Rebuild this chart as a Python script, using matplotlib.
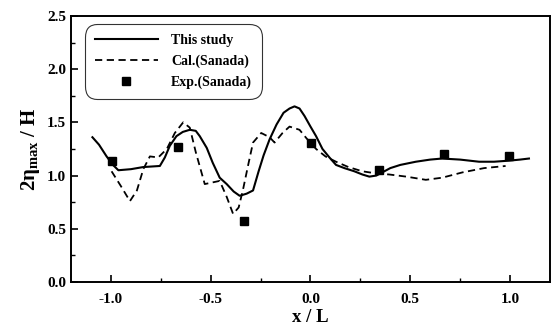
import matplotlib.pyplot as plt
from matplotlib.ticker import MultipleLocator

# This study (solid line)
study_x = [-1.093, -1.06, -1.022, -0.99, -0.963, -0.90, -0.838, -0.755, -0.73, -0.705,
           -0.672, -0.64, -0.605, -0.575, -0.555, -0.52, -0.49, -0.455, -0.42, -0.385,
           -0.355, -0.32, -0.288, -0.26, -0.235, -0.205, -0.17, -0.135, -0.105, -0.08,
           -0.055, -0.03, 0.0, 0.028, 0.06, 0.095, 0.128, 0.17, 0.22, 0.26, 0.295,
           0.33, 0.36, 0.40, 0.45, 0.528, 0.60, 0.66, 0.75, 0.845, 0.92, 0.995, 1.05, 1.095]
study_y = [1.36, 1.29, 1.18, 1.10, 1.05, 1.06, 1.08, 1.09, 1.17, 1.28,
           1.37, 1.41, 1.43, 1.42, 1.37, 1.26, 1.12, 0.98, 0.92, 0.85,
           0.81, 0.83, 0.86, 1.04, 1.19, 1.34, 1.48, 1.59, 1.63, 1.65,
           1.63, 1.56, 1.46, 1.37, 1.25, 1.17, 1.10, 1.07, 1.04, 1.01, 0.99,
           1.00, 1.03, 1.07, 1.10, 1.13, 1.15, 1.16, 1.15, 1.13, 1.13, 1.14, 1.15, 1.16]

# Cal.(Sanada) (dashed line)
cal_x = [-0.997, -0.95, -0.905, -0.87, -0.838, -0.805, -0.763, -0.72, -0.68, -0.638,
         -0.605, -0.575, -0.53, -0.455, -0.42, -0.388, -0.36, -0.338, -0.31, -0.288,
         -0.247, -0.205, -0.18, -0.14, -0.105, -0.055, -0.02, 0.028, 0.075, 0.128,
         0.19, 0.26, 0.33, 0.395, 0.48, 0.578, 0.66, 0.762, 0.87, 0.978]
cal_y = [1.04, 0.90, 0.76, 0.86, 1.06, 1.18, 1.17, 1.25, 1.40, 1.50,
         1.45, 1.22, 0.92, 0.95, 0.80, 0.64, 0.70, 0.87, 1.12, 1.31,
         1.40, 1.36, 1.31, 1.40, 1.46, 1.43, 1.35, 1.25, 1.18, 1.13,
         1.08, 1.04, 1.02, 1.01, 0.99, 0.96, 0.98, 1.03, 1.07, 1.09]

# Exp.(Sanada) (squares)
exp_x = [-0.997, -0.663, -0.335, 0.003, 0.342, 0.67, 0.995]
exp_y = [1.135, 1.27, 0.575, 1.31, 1.05, 1.20, 1.18]

plt.rcParams['font.family'] = ['Liberation Serif', 'DejaVu Serif']
plt.rcParams['font.weight'] = 'bold'
plt.rcParams['mathtext.fontset'] = 'custom'
plt.rcParams['mathtext.rm'] = 'Liberation Serif:bold'
plt.rcParams['mathtext.it'] = 'Liberation Serif:bold'

fig = plt.figure(figsize=(5.51, 3.31), dpi=100)
ax = fig.add_axes([0.129, 0.148, 0.869, 0.804])

ax.plot(study_x, study_y, color='black', lw=1.5, label='This study')
ax.plot(cal_x, cal_y, color='black', lw=1.3, ls=(0, (4, 2.5)), label='Cal.(Sanada)')
ax.plot(exp_x, exp_y, ls='none', marker='s', ms=6, color='black', label='Exp.(Sanada)')

ax.set_xlim(-1.2, 1.2)
ax.set_ylim(0.0, 2.5)
ax.xaxis.set_major_locator(MultipleLocator(0.5))
ax.xaxis.set_minor_locator(MultipleLocator(0.25))
ax.yaxis.set_major_locator(MultipleLocator(0.5))
ax.yaxis.set_minor_locator(MultipleLocator(0.25))
ax.xaxis.set_major_formatter(lambda v, p: f"{v:.1f}")
ax.yaxis.set_major_formatter(lambda v, p: f"{v:.1f}")
ax.tick_params(which='both', direction='in', top=False, right=False, labelsize=11)
ax.tick_params(which='major', length=5, width=1.2)
ax.tick_params(which='minor', length=3, width=1)
ax.tick_params(axis='x', pad=8)
for s in ax.spines.values():
    s.set_linewidth(1.4)

ax.set_xlabel('x / L', fontsize=13.5, fontweight='bold', labelpad=2)
ax.set_ylabel(r'$\mathregular{2\eta_{max}}$ / H', fontsize=15, fontweight='bold', labelpad=4)

leg = ax.legend(loc='upper left', bbox_to_anchor=(0.02, 0.985), fontsize=10,
                frameon=True, fancybox=True, edgecolor='black', handlelength=4.6,
                borderpad=0.5, labelspacing=0.55, handletextpad=0.9)
leg.get_frame().set_linewidth(0.8)
leg.get_frame().set_boxstyle('round', pad=0.2, rounding_size=0.9)

fig.savefig('out.png', dpi=100)
